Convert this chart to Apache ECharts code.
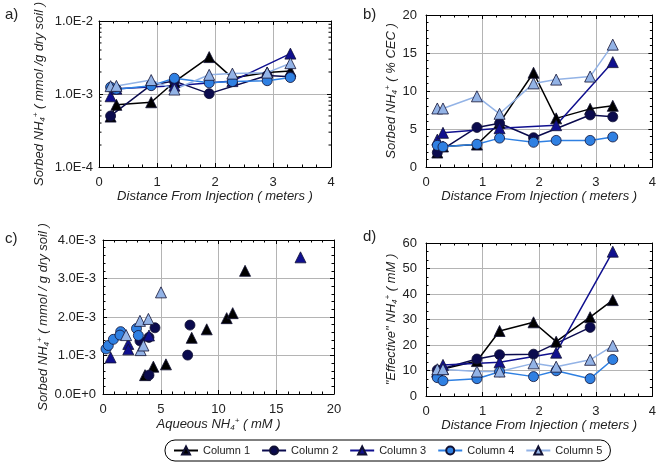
<!DOCTYPE html>
<html><head><meta charset="utf-8">
<script src="https://cdn.jsdelivr.net/npm/echarts@6/dist/echarts.min.js"></script>
<style>html,body{margin:0;padding:0;background:#fff}#c{width:659px;height:466px}</style>
</head><body><div id="c"></div>
<script>
// ---------- data ----------
const dist = [0.2, 0.3, 0.9, 1.3, 1.9, 2.3, 2.9, 3.3];
const columnNames = ['Column 1', 'Column 2', 'Column 3', 'Column 4', 'Column 5'];

// a) Sorbed NH4+ (mmol / g dry soil) vs distance (null = no sample)
const sorbedA1 = [4.9e-4, 7.1e-4, 7.7e-4, 1.46e-3, 3.2e-3, 1.66e-3, 1.97e-3, 2.07e-3];
const sorbedA2 = [5.0e-4, null, 1.33e-3, 1.5e-3, 1.01e-3, null, 1.79e-3, 1.72e-3];
const sorbedA3 = [9.3e-4, 1.18e-3, null, 1.3e-3, null, 1.5e-3, null, 3.57e-3];
const sorbedA4 = [1.24e-3, 1.16e-3, 1.3e-3, 1.64e-3, 1.42e-3, 1.48e-3, 1.52e-3, 1.68e-3];
const sorbedA5 = [1.28e-3, 1.29e-3, 1.55e-3, 1.15e-3, 1.83e-3, 1.9e-3, 1.96e-3, 2.64e-3];

// b) Sorbed NH4+ (% CEC) vs distance
const cecB1 = [1.9, 2.7, 2.95, 5.8, 12.4, 6.4, 7.65, 8.05];
const cecB2 = [1.9, null, 5.2, 5.75, 3.85, null, 6.85, 6.6];
const cecB3 = [3.6, 4.5, null, 5.1, null, 5.5, null, 13.8];
const cecB4 = [2.85, 2.65, 3.0, 3.8, 3.25, 3.5, 3.5, 3.95];
const cecB5 = [7.7, 7.7, 9.3, 7.0, 11.0, 11.5, 11.9, 16.1];

// c) Sorbed NH4+ vs aqueous NH4+ (mM)
const aqC1 = [3.64, 4.36, 5.45, 7.68, 8.98, 10.71, 11.23, 12.3];
const sorC1 = [0.49e-3, 0.71e-3, 0.77e-3, 1.46e-3, 1.68e-3, 1.97e-3, 2.1e-3, 3.2e-3];
const aqC2 = [4.5, 7.53, 3.98, 3.2, 7.33, 3.98];
const sorC2 = [1.72e-3, 1.79e-3, 1.47e-3, 1.38e-3, 1.01e-3, 0.49e-3];
const aqC3 = [0.66, 2.19, 2.19, 3.98, 17.1];
const sorC3 = [0.95e-3, 1.3e-3, 1.16e-3, 1.52e-3, 3.55e-3];
const aqC4 = [0.26, 0.46, 0.9, 1.53, 1.47, 2.9, 3.06];
const sorC4 = [1.17e-3, 1.26e-3, 1.42e-3, 1.62e-3, 1.53e-3, 1.7e-3, 1.52e-3];
const aqC5 = [5.02, 3.2, 3.93, 2.0, 3.26, 3.5];
const sorC5 = [2.64e-3, 1.9e-3, 1.95e-3, 1.53e-3, 1.14e-3, 1.26e-3];

// d) "Effective" NH4+ (mM) vs distance
const effD1 = [9.8, 10.6, 13.7, 25.5, 28.9, 21.3, 30.9, 37.6];
const effD2 = [10.2, null, 14.5, 16.2, 16.4, null, 26.9, null];
const effD3 = [9.5, 12.2, null, 13.2, null, 17.0, null, 56.6];
const effD4 = [7.2, 6.0, 6.8, 9.5, 7.6, 9.9, 6.8, 14.3];
const effD5 = [10.5, 10.5, 9.6, 9.6, 12.8, 11.5, 14.2, 19.7];

// log-axis minor tick values (panel a)
const logMinorTicks = [2e-4,3e-4,4e-4,5e-4,6e-4,7e-4,8e-4,9e-4,2e-3,3e-3,4e-3,5e-3,6e-3,7e-3,8e-3,9e-3];

// ---------- styling ----------
const colors = ['#000000', '#0b0b4e', '#10108f', '#2f80e2', '#93b3e6'];
const symbols = ['triangle', 'circle', 'triangle', 'circle', 'triangle'];
const regular = '"Liberation Sans", Arial, sans-serif';
const rich = {
  sub: {fontSize: 8, fontStyle: 'italic', fontFamily: regular, color: '#222', padding: [7, 0, 0, 0]},
  sup: {fontSize: 8, fontStyle: 'italic', fontFamily: regular, color: '#222', padding: [0, 0, 7, 0]}
};
const nameStyle = {fontFamily: regular, fontStyle: 'italic', fontSize: 13, color: '#222', rich: rich};

function pairs(xs, ys) {
  const out = [];
  for (let i = 0; i < xs.length; i++) if (ys[i] !== null) out.push([xs[i], ys[i]]);
  return out;
}

function mainAxis(gi, pos, extra) {
  return Object.assign({
    gridIndex: gi, position: pos, type: 'value',
    axisLine: {show: true, onZero: false, lineStyle: {color: '#000', width: 1}},
    axisTick: {show: true, inside: true, length: 4, lineStyle: {color: '#000'}},
    minorTick: {show: true, splitNumber: 4, length: 2.5, lineStyle: {color: '#000'}},
    splitLine: {show: true, lineStyle: {color: '#b4b4b4', width: 1}},
    minorSplitLine: {show: false},
    axisLabel: {fontFamily: regular, fontSize: 13, color: '#222', margin: 9},
    nameTextStyle: nameStyle,
    nameLocation: 'middle'
  }, extra);
}
function mirrorAxis(gi, pos, extra) {
  const a = mainAxis(gi, pos, extra);
  a.axisLabel = {show: false};
  a.splitLine = {show: false};
  a.name = '';
  return a;
}

const xA = {min: 0, max: 4, interval: 1, minorTick: {show: true, splitNumber: 4, length: 2.5, lineStyle: {color: '#000'}}};
const expFmt = v => v === 0 ? '0.0E+0' : v.toExponential(1).toUpperCase();

const xAxes = [
  mainAxis(0, 'bottom', Object.assign({}, xA, {name: 'Distance From Injection ( meters )', nameGap: 22})),
  mirrorAxis(0, 'top', xA),
  mainAxis(1, 'bottom', Object.assign({}, xA, {name: 'Distance From Injection ( meters )', nameGap: 22})),
  mirrorAxis(1, 'top', xA),
  mainAxis(2, 'bottom', {min: 0, max: 20, interval: 5, minorTick: {show: true, splitNumber: 5, length: 2.5, lineStyle: {color: '#000'}}, name: 'Aqueous NH{sub|4}{sup|+} ( mM )', nameGap: 22}),
  mirrorAxis(2, 'top', {min: 0, max: 20, interval: 5, minorTick: {show: true, splitNumber: 5, length: 2.5, lineStyle: {color: '#000'}}}),
  mainAxis(3, 'bottom', Object.assign({}, xA, {name: 'Distance From Injection ( meters )', nameGap: 22})),
  mirrorAxis(3, 'top', xA)
];

const yLog = {type: 'log', logBase: 10, min: 1e-4, max: 1e-2, minorTick: {show: false}};
const yB = {min: 0, max: 20, interval: 5, minorTick: {show: true, splitNumber: 5, length: 2.5, lineStyle: {color: '#000'}}};
const yC = {min: 0, max: 4e-3, interval: 1e-3, minorTick: {show: true, splitNumber: 5, length: 2.5, lineStyle: {color: '#000'}}};
const yD = {min: 0, max: 60, interval: 10, minorTick: {show: true, splitNumber: 3, length: 2.5, lineStyle: {color: '#000'}}};

const yAxes = [
  mainAxis(0, 'left', Object.assign({}, yLog, {name: 'Sorbed NH{sub|4}{sup|+} ( mmol /g dry soil )', nameGap: 52, axisLabel: {fontFamily: regular, fontSize: 13, color: '#222', margin: 6, formatter: expFmt}})),
  mirrorAxis(0, 'right', yLog),
  mainAxis(1, 'left', Object.assign({}, yB, {name: 'Sorbed NH{sub|4}{sup|+} ( % CEC )', nameGap: 26})),
  mirrorAxis(1, 'right', yB),
  mainAxis(2, 'left', Object.assign({}, yC, {name: 'Sorbed NH{sub|4}{sup|+} ( mmol / g dry soil )', nameGap: 52, axisLabel: {fontFamily: regular, fontSize: 13, color: '#222', margin: 7, formatter: expFmt}})),
  mirrorAxis(2, 'right', yC),
  mainAxis(3, 'left', Object.assign({}, yD, {name: '"Effective" NH{sub|4}{sup|+} ( mM )', nameGap: 26})),
  mirrorAxis(3, 'right', yD)
];

const series = [];
function addSet(gi, type, sets) {
  sets.forEach((data, k) => {
    series.push({
      name: columnNames[k], type: type,
      xAxisIndex: gi * 2, yAxisIndex: gi * 2,
      data: data,
      symbol: symbols[k], symbolSize: symbols[k] === 'triangle' ? 11 : 10,
      lineStyle: {color: colors[k], width: 1.5},
      itemStyle: {color: colors[k], borderColor: '#111133', borderWidth: 0.8, opacity: 1},
      showSymbol: true, connectNulls: true, animation: false
    });
  });
}
addSet(0, 'line', [sorbedA1, sorbedA2, sorbedA3, sorbedA4, sorbedA5].map(a => pairs(dist, a)));
addSet(1, 'line', [cecB1, cecB2, cecB3, cecB4, cecB5].map(a => pairs(dist, a)));
addSet(2, 'scatter', [[aqC1, sorC1], [aqC2, sorC2], [aqC3, sorC3], [aqC4, sorC4], [aqC5, sorC5]].map(p => pairs(p[0], p[1])));
addSet(3, 'line', [effD1, effD2, effD3, effD4, effD5].map(a => pairs(dist, a)));

// log minor ticks on left & right edges of panel a
series.push({
  type: 'custom', xAxisIndex: 0, yAxisIndex: 0, silent: true, z: 1,
  data: logMinorTicks.map(v => [0, v]),
  renderItem: function (params, api) {
    const v = api.value(1);
    const p = api.coord([0, v]);
    const q = api.coord([4, v]);
    return {type: 'group', children: [
      {type: 'line', shape: {x1: p[0], y1: p[1], x2: p[0] + 2.5, y2: p[1]}, style: {stroke: '#000', lineWidth: 1}},
      {type: 'line', shape: {x1: q[0] - 2.5, y1: q[1], x2: q[0], y2: q[1]}, style: {stroke: '#000', lineWidth: 1}}
    ]};
  }
});

const panelTitle = (t, l, tp) => ({text: t, left: l, top: tp, textStyle: {fontFamily: regular, fontSize: 15, fontWeight: 'normal', color: '#222'}});

const option = {
  animation: false,
  backgroundColor: '#fff',
  title: [panelTitle('a)', 0, 2), panelTitle('b)', 358, 2), panelTitle('c)', 0, 226), panelTitle('d)', 358, 224)],
  grid: [
    {left: 99, top: 15, width: 232, height: 152},
    {left: 426, top: 15, width: 230, height: 152},
    {left: 103, top: 240, width: 231, height: 154},
    {left: 426, top: 243, width: 230, height: 153}
  ],
  xAxis: xAxes,
  yAxis: yAxes,
  legend: {
    data: columnNames, left: 165, top: 440, orient: 'horizontal',
    itemWidth: 24, itemHeight: 10, itemGap: 11,
    borderColor: '#000', borderWidth: 1, borderRadius: 10, padding: [5, 8],
    textStyle: {fontFamily: regular, fontSize: 11, color: '#222'}
  },
  series: series
};
const chart = echarts.init(document.getElementById('c'), null, {renderer: 'canvas'});
chart.setOption(option);
</script></body></html>
